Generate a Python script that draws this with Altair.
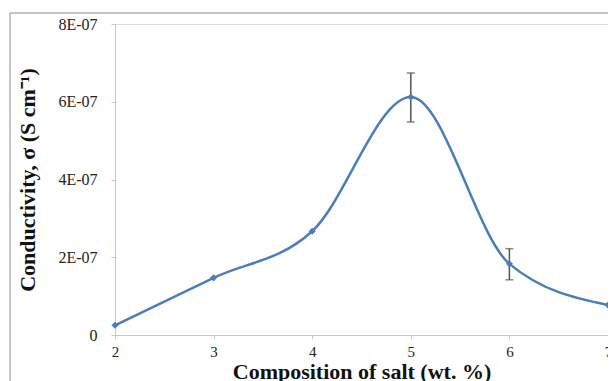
import altair as alt
import pandas as pd

composition = [2, 3, 4, 5, 6, 7]
conductivity = [2.5e-8, 1.47e-7, 2.67e-7, 6.12e-7, 1.83e-7, 7.7e-8]
err_x = [5, 6]
err_lo = [5.48e-7, 1.42e-7]
err_hi = [6.74e-7, 2.22e-7]
y_ticks = [0, 2e-7, 4e-7, 6e-7, 8e-7]

df = pd.DataFrame({"x": composition, "y": conductivity})
edf = pd.DataFrame({"x": err_x, "lo": err_lo, "hi": err_hi})

serif = "Liberation Serif"
blue = "#4A7EBB"

xscale = alt.Scale(domain=[2, 7], nice=False, zero=False)
yscale = alt.Scale(domain=[0, 8e-7], nice=False)

xaxis = alt.Axis(
    title="Composition of salt (wt. %)", values=composition, format="d",
    grid=False, domainColor="#C8C8C8", tickColor="#C8C8C8", tickSize=4,
    labelFont=serif, labelFontSize=15, labelColor="#222", labelPadding=5,
    titleFont=serif, titleFontSize=22, titleFontWeight="bold", titleColor="#111",
    titlePadding=2, labelFlush=False,
)
yaxis = alt.Axis(
    title="Conductivity, σ (S cm⁻¹)", values=y_ticks,
    labelExpr="datum.value == 0 ? '0' : format(datum.value / 1e-7, 'd') + 'E-07'",
    grid=False, domainColor="#C8C8C8", tickColor="#C8C8C8", tickSize=4,
    labelFont=serif, labelFontSize=16, labelColor="#222", labelPadding=14,
    titleFont=serif, titleFontSize=22, titleFontWeight="bold", titleColor="#111",
    titlePadding=18,
)

base = alt.Chart(df)
line = base.mark_line(interpolate="monotone", color=blue, strokeWidth=2.5).encode(
    x=alt.X("x:Q", scale=xscale, axis=xaxis),
    y=alt.Y("y:Q", scale=yscale, axis=yaxis),
)
pts = base.mark_point(shape="diamond", filled=True, color=blue, size=50, opacity=1).encode(
    x=alt.X("x:Q", scale=xscale), y=alt.Y("y:Q", scale=yscale)
)
ebase = alt.Chart(edf)
erule = ebase.mark_rule(color="#555555", strokeWidth=1.5).encode(
    x=alt.X("x:Q", scale=xscale), y=alt.Y("lo:Q", scale=yscale), y2="hi:Q"
)
ecap_lo = ebase.mark_tick(color="#555555", thickness=1.5, size=8, orient="horizontal").encode(
    x=alt.X("x:Q", scale=xscale), y=alt.Y("lo:Q", scale=yscale)
)
ecap_hi = ebase.mark_tick(color="#555555", thickness=1.5, size=8, orient="horizontal").encode(
    x=alt.X("x:Q", scale=xscale), y=alt.Y("hi:Q", scale=yscale)
)

frame_df = pd.DataFrame({"k": [0]})
frame_left = alt.Chart(frame_df).mark_rule(color="#B0B0B0", strokeWidth=1.5).encode(
    x=alt.value(-105), y=alt.value(-11), y2=alt.value(400)
)
frame_top = alt.Chart(frame_df).mark_rule(color="#B0B0B0", strokeWidth=1.5).encode(
    x=alt.value(-105), x2=alt.value(600), y=alt.value(-11)
)

chart = alt.layer(frame_left, frame_top, line, erule, ecap_lo, ecap_hi, pts).properties(
    width=493, height=311,
    autosize=alt.AutoSizeParams(type="none"),
    padding={"left": 107, "top": 16, "right": 0, "bottom": 58},
).configure_view(stroke=None).configure(background="white")

chart.save("out.html", embed_options={"renderer": "svg", "actions": False})
